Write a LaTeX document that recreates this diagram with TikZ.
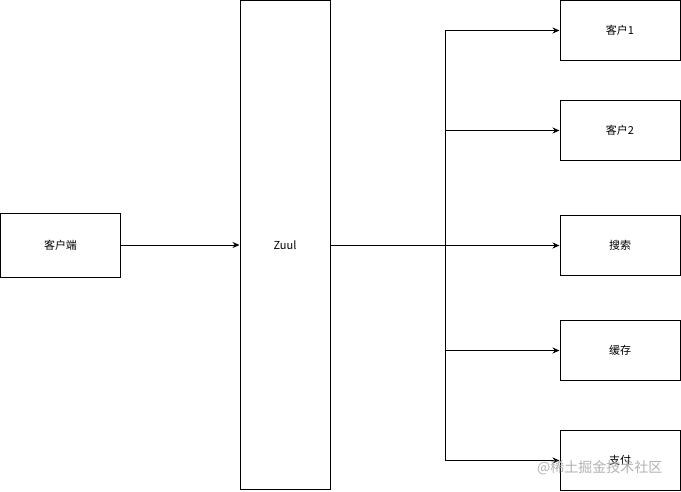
\documentclass[tikz,border=0pt]{standalone}
\usepackage{fontspec}
\setmainfont{Noto Sans CJK SC}
\usetikzlibrary{arrows.meta}
\begin{document}
\begin{tikzpicture}[x=1pt,y=-1pt,
  box/.style={draw=black,line width=1pt,fill=white,inner sep=0pt,font=\fontsize{11}{13}\selectfont},
  arr/.style={draw=black,line width=1pt,-{Stealth[length=7pt,width=6pt]}}]
\useasboundingbox (0,0) rectangle (681,491);
\node[box,minimum width=120pt,minimum height=64pt] (cl) at (60.5,245) {客户端};
\node[box,minimum width=90pt,minimum height=489pt] (zuul) at (285,245) {Zuul};
\node[box,minimum width=120pt,minimum height=60pt] (c1) at (620,30.5) {客户1};
\node[box,minimum width=120pt,minimum height=60pt] (c2) at (620,130.5) {客户2};
\node[box,minimum width=120pt,minimum height=60pt] (s) at (620,245.5) {搜索};
\node[box,minimum width=120pt,minimum height=60pt] (h) at (620,350.5) {缓存};
\node[box,minimum width=120pt,minimum height=60pt] (p) at (620,460.5) {支付};
\coordinate (j) at (445.5,245.5);
\draw[arr] (cl.east) -- (zuul.west |- cl.east);
\draw[arr] (zuul.east |- j) -- (j) |- (c1.west);
\draw[arr] (zuul.east |- j) -- (j) |- (c2.west);
\draw[arr] (zuul.east |- j) -- (s.west);
\draw[arr] (j) |- (h.west);
\draw[arr] (j) |- (p.west);
\node[text=black!30,font=\fontsize{14}{16}\selectfont,anchor=west,inner sep=0pt] (wm) at (537,468) {@稀土掘金技术社区};
\end{tikzpicture}
\end{document}
